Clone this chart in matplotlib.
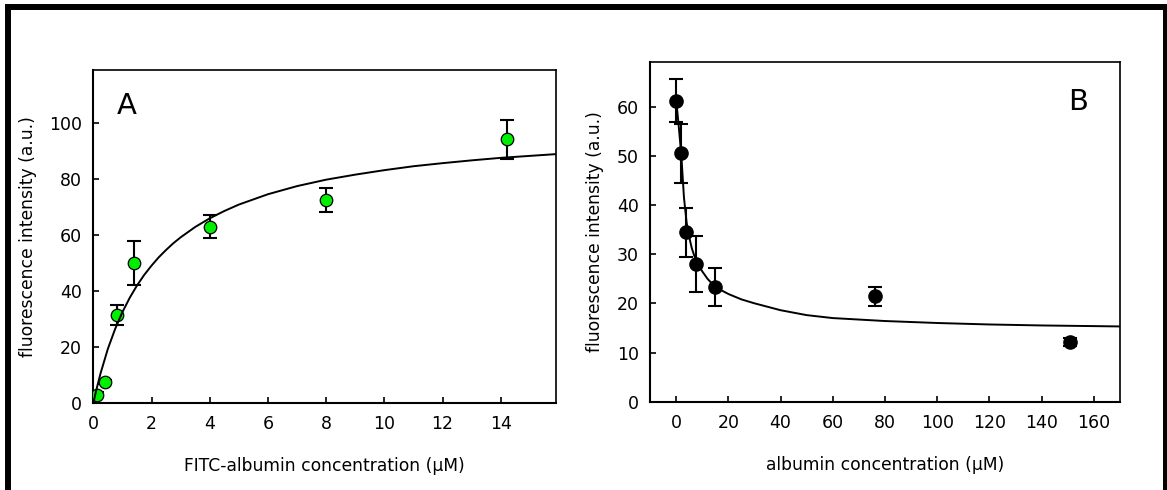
import numpy as np
import matplotlib
matplotlib.use("Agg")
from matplotlib import pyplot as plt
from matplotlib.patches import Rectangle

plt.rcParams["font.family"] = ["DejaVu Sans"]

# ------ panel A: FITC-albumin binding

a_conc = [0.14, 0.4, 0.8, 1.4, 4.0, 8.0, 14.2]
a_fluo = [3.0, 7.5, 31.5, 50.0, 63.0, 72.7, 94.3]
a_err = [0.8, 0.8, 3.5, 8.0, 4.2, 4.3, 7.0]

a_fit_x = [0, 0.1, 0.25, 0.5, 0.75, 1.0, 1.25, 1.5, 1.75, 2.0, 2.25, 2.5, 2.75, 3.0, 3.5,
           4.0, 4.5, 5.0, 6.0, 7.0, 8.0, 9.0, 10.0, 11.0, 12.0, 13.0, 14.0, 15.0, 16.0]
a_fit_y = [0, 4.6, 10.7, 19.4, 26.5, 32.5, 37.6, 42.0, 45.8, 49.1, 52.1, 54.7, 57.1, 59.2, 62.9,
           66.0, 68.6, 70.9, 74.6, 77.5, 79.8, 81.6, 83.2, 84.6, 85.7, 86.7, 87.6, 88.3, 89.0]

# ------ panel B: displacement by unlabelled albumin

b_conc = [0, 1.9, 3.8, 7.5, 15.0, 76.0, 151.0]
b_fluo = [61.2, 50.5, 34.4, 27.9, 23.3, 21.4, 12.1]
b_err = [4.4, 6.0, 4.9, 5.7, 3.9, 2.0, 0.8]

b_fit_x = [0, 1, 2, 3, 4, 5, 6, 7, 8, 10, 12, 15, 20, 25, 30, 40, 50, 60,
           80, 100, 120, 140, 170]
b_fit_y = [61.5, 56.0, 50.0, 41.5, 36.5, 33.5, 31.2, 29.6, 28.3, 26.5, 25.0, 23.3, 21.9,
           20.8, 20.0, 18.6, 17.6, 17.0, 16.4, 16.0, 15.7, 15.5, 15.3]

# ------

fig = plt.figure(figsize=(11.67, 4.9), dpi=100)
axA = fig.add_axes([0.080, 0.1776, 0.3965, 0.6796])
axB = fig.add_axes([0.557, 0.1802, 0.4027, 0.6927])

tick_fs = 12.5
label_fs = 12.3

def style(ax):
    for s in ["left", "bottom"]:
        ax.spines[s].set_linewidth(1.5)
    for s in ["top", "right"]:
        ax.spines[s].set_linewidth(1.2)
    ax.tick_params(axis="both", direction="in", length=4, width=1.2,
                   labelsize=tick_fs, top=False, right=False)
    ax.tick_params(axis="x", pad=9)
    ax.tick_params(axis="y", pad=8)

# A
axA.errorbar(a_conc, a_fluo, yerr=a_err, fmt="none", ecolor="k", elinewidth=1.5,
             capsize=5, capthick=1.5, zorder=2)
axA.plot(a_conc, a_fluo, "o", ms=9, mfc="#00ee00", mec="k", mew=0.9, zorder=3)
axA.plot(a_fit_x, a_fit_y, "k-", lw=1.4, zorder=4)
axA.set_xlim(0, 15.9)
axA.set_ylim(0, 119)
axA.set_xticks([0, 2, 4, 6, 8, 10, 12, 14])
axA.set_yticks([0, 20, 40, 60, 80, 100])
axA.set_xlabel("FITC-albumin concentration (\u03bcM)", fontsize=label_fs, labelpad=17)
axA.set_ylabel("fluorescence intensity (a.u.)", fontsize=label_fs, labelpad=9)
axA.text(0.05, 0.935, "A", transform=axA.transAxes, fontsize=21, va="top", ha="left")
style(axA)

# B
axB.errorbar(b_conc, b_fluo, yerr=b_err, fmt="none", ecolor="k", elinewidth=1.5,
             capsize=5, capthick=1.5, zorder=2)
axB.plot(b_conc, b_fluo, "o", ms=9.5, mfc="k", mec="k", zorder=3)
axB.plot(b_fit_x, b_fit_y, "k-", lw=1.4, zorder=4)
axB.set_xlim(-10, 170)
axB.set_ylim(0, 69)
axB.set_xticks([0, 20, 40, 60, 80, 100, 120, 140, 160])
axB.set_yticks([0, 10, 20, 30, 40, 50, 60])
axB.set_xlabel("albumin concentration (\u03bcM)", fontsize=label_fs, labelpad=17)
axB.set_ylabel("fluorescence intensity (a.u.)", fontsize=label_fs, labelpad=9)
axB.text(0.89, 0.925, "B", transform=axB.transAxes, fontsize=21, va="top", ha="left")
style(axB)

# black frame around the figure (cut off at bottom/right)
fig.patches.append(Rectangle((0.00686, -0.05), 0.99228, 1.0357, transform=fig.transFigure,
                             fill=False, ec="k", lw=4.3, zorder=10))

fig.savefig("out.png", dpi=100)
